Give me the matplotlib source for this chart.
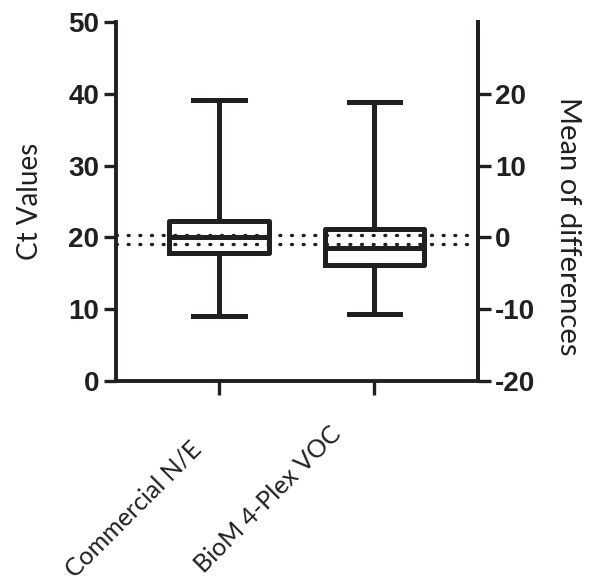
import numpy as np
import matplotlib
matplotlib.use("Agg")
import matplotlib.pyplot as plt
import matplotlib.transforms as mtransforms

plt.rcParams['axes.unicode_minus'] = False
plt.rcParams['font.family'] = ['Liberation Sans', 'DejaVu Sans']

# values (Ct values, min / q1 / median / q3 / max)
groups = ["Commercial N/E", "BioM 4-Plex VOC"]
ct_min = [9.0, 9.3]
ct_q1 = [17.8, 16.1]
ct_med = [20.0, 18.5]
ct_q3 = [22.3, 21.2]
ct_max = [39.1, 38.9]

# mean of differences lines (right axis)
diff_lines = [0.4, -0.9]

left_ticks = [0, 10, 20, 30, 40, 50]
right_ticks = [-20, -10, 0, 10, 20]

ink = '#231f20'

fig = plt.figure(figsize=(5.94, 5.85), dpi=100)
ax = fig.add_axes([0.195, 0.349, 0.61, 0.613])

stats = []
for i, g in enumerate(groups):
	stats.append({"label": g, "whislo": ct_min[i], "q1": ct_q1[i], "med": ct_med[i],
				  "q3": ct_q3[i], "whishi": ct_max[i], "fliers": []})

lw = 3.6
ax.bxp(stats, positions=np.arange(len(groups)), widths=0.64, showfliers=False,
	   boxprops=dict(color=ink, linewidth=lw),
	   medianprops=dict(color=ink, linewidth=lw),
	   whiskerprops=dict(color=ink, linewidth=lw),
	   capprops=dict(color=ink, linewidth=lw),
	   capwidths=0.33, manage_ticks=False)

ax.set_xlim(-0.665, 1.67)
ax.set_ylim(0, 50)
ax.set_yticks(left_ticks)
ax.set_xticks(np.arange(len(groups)))
ax.set_xticklabels([])
# rotated category labels, shifted down/left like in the original (inches)
label_shift = [(-0.30, -0.56), (-0.45, -0.41)]
for i, g in enumerate(groups):
	offset = mtransforms.ScaledTranslation(label_shift[i][0], label_shift[i][1], fig.dpi_scale_trans)
	ax.text(i, 0, g, transform=ax.get_xaxis_transform() + offset, rotation=45,
			ha='right', va='top', rotation_mode='anchor', fontsize=18, family='Lato', color=ink)
ax.set_ylabel("Ct Values", fontsize=20, family='Lato', color=ink, labelpad=18)

ax.spines['top'].set_visible(False)
for s in ['left', 'bottom', 'right']:
	ax.spines[s].set_linewidth(2.8)
	ax.spines[s].set_color(ink)

ax.tick_params(axis='y', direction='out', length=9, width=2.4, labelsize=20, colors=ink, pad=3)
ax.tick_params(axis='x', direction='out', length=10, width=2.4, colors=ink, pad=6)
for t in ax.get_yticklabels():
	t.set_fontweight('bold')

ax2 = ax.twinx()
ax2.set_ylim(-20, 30)
ax2.set_yticks(right_ticks)
ax2.spines['top'].set_visible(False)
ax2.spines['right'].set_linewidth(2.8)
ax2.spines['right'].set_color(ink)
ax2.spines['left'].set_visible(False)
ax2.spines['bottom'].set_visible(False)
ax2.tick_params(axis='y', direction='out', length=9, width=2.4, labelsize=20, colors=ink, pad=3)
for t in ax2.get_yticklabels():
	t.set_fontweight('bold')
ax2.set_ylabel("Mean of differences", fontsize=21, family='Lato', color=ink, rotation=270,
			   va='bottom', labelpad=14)
ax2.yaxis.label.set_y(0.43)

for v in diff_lines:
	ax2.axhline(v, color=ink, linewidth=2.4, linestyle=(0, (0.3, 3.2)),
				dash_capstyle='round', zorder=5)

fig.savefig("out.png", dpi=100)
